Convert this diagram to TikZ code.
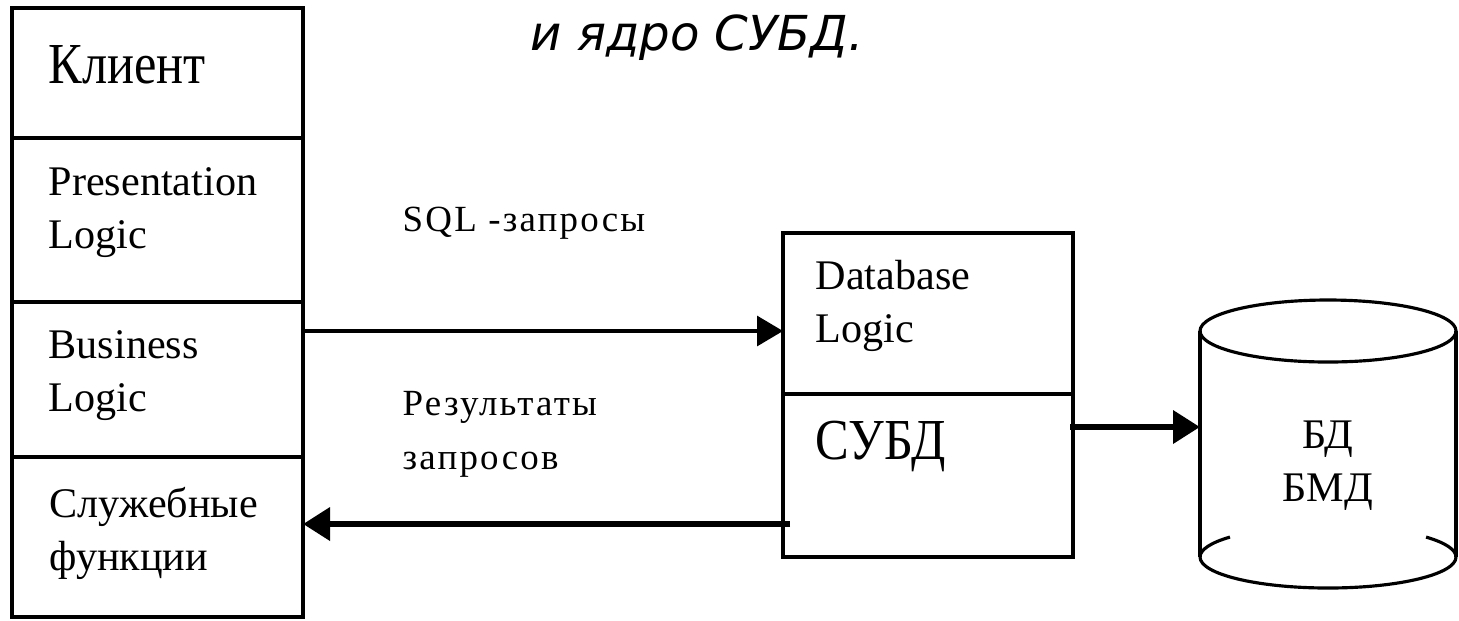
\documentclass[tikz,border=0pt]{standalone}
\usepackage{fontspec}
\setmainfont{Liberation Serif}
\newfontfamily\narrowfont[FakeStretch=0.87]{Liberation Serif}
\newfontfamily\spacedfont[LetterSpace=6]{Liberation Serif}
\newfontfamily\slidefont{DejaVu Sans}
\usetikzlibrary{arrows.meta, positioning}

\begin{document}
\begin{tikzpicture}[
    sect/.style={rectangle, draw, line width=0.9pt, anchor=north west, inner sep=0pt, outer sep=0pt},
    lbl/.style={anchor=north west, inner sep=0pt, align=left, font=\fontsize{12}{15}\selectfont},
    big/.style={anchor=north west, inner sep=0pt, font=\narrowfont\fontsize{16.5}{20}\selectfont},
    note/.style={anchor=north west, inner sep=0pt, align=left, font=\spacedfont\fontsize{10.5}{15.3}\selectfont},
    arr/.style={-{Triangle[length=0.26cm, width=0.3cm]}, line width=0.9pt},
    arrw/.style={-{Triangle[length=0.27cm, width=0.32cm]}, line width=1.9pt},
    cyl/.style={line width=0.9pt}
]
\useasboundingbox (0,0) rectangle (14.59,-6.20);

% slide caption, upper lines cut off
\node[anchor=base west, inner sep=0pt, font=\slidefont\itshape\fontsize{13.7}{16}\selectfont] (caption) at (5.30,-0.50) {и ядро СУБД.};

% Client column
\node[sect, minimum width=2.91cm, minimum height=1.30cm] (client) at (0.12,-0.08) {};
\node[sect, minimum width=2.91cm, minimum height=1.64cm] (pres) at (client.south west) {};
\node[sect, minimum width=2.91cm, minimum height=1.55cm] (biz) at (pres.south west) {};
\node[sect, minimum width=2.91cm, minimum height=1.60cm] (svc) at (biz.south west) {};

\node[big] (clienttxt) at (0.48,-0.45) {Клиент};
\node[lbl] (prestxt) at (0.48,-1.67) {Presentation\\Logic};
\node[lbl] (biztxt) at (0.48,-3.30) {Business\\Logic};
\node[lbl] (svctxt) at (0.49,-4.87) {Служебные\\функции};

% Server column
\node[sect, minimum width=2.90cm, minimum height=1.61cm] (dbl) at (7.83,-2.33) {};
\node[sect, minimum width=2.90cm, minimum height=1.63cm] (dbms) at (dbl.south west) {};

\node[lbl] (dbltxt) at (8.15,-2.60) {Database\\Logic};
\node[big] (dbmstxt) at (8.15,-4.20) {СУБД};

% Database cylinder
\node[draw=none, inner sep=0pt, outer sep=0pt, minimum width=2.56cm, minimum height=2.26cm] (bd) at (13.28,-4.44) {};
\draw[cyl] (bd.north west) -- (bd.south west) (bd.north east) -- (bd.south east);
\draw[cyl] (bd.north) ellipse [x radius=1.28cm, y radius=0.31cm];
\draw[cyl] (bd.south west) arc[start angle=180, end angle=360, x radius=1.28cm, y radius=0.31cm];
\draw[cyl] (bd.south west) arc[start angle=180, end angle=140, x radius=1.28cm, y radius=0.31cm];
\draw[cyl] (bd.south east) arc[start angle=0, end angle=40, x radius=1.28cm, y radius=0.31cm];
\node[lbl, align=center, anchor=north] (bdtxt) at (13.28,-4.20) {БД\\БМД};

% Labels on the arrows
\node[note] (sqltxt) at (4.02,-2.06) {SQL -запросы};
\node[note] (restxt) at (4.02,-3.91) {Результаты\\запросов};

% Arrows
\coordinate[yshift=-0.29cm] (sqlout) at (biz.north east);
\draw[arr] (sqlout) -- (sqlout -| dbl.west);
\coordinate[xshift=0.07cm, yshift=-0.485cm] (resout) at (dbms.west);
\draw[arrw] (resout) -- (resout -| svc.east);
\coordinate[xshift=-0.03cm, yshift=0.485cm] (dbout) at (dbms.east);
\draw[arrw] (dbout) -- (dbout -| bd.west);
\end{tikzpicture}
\end{document}
